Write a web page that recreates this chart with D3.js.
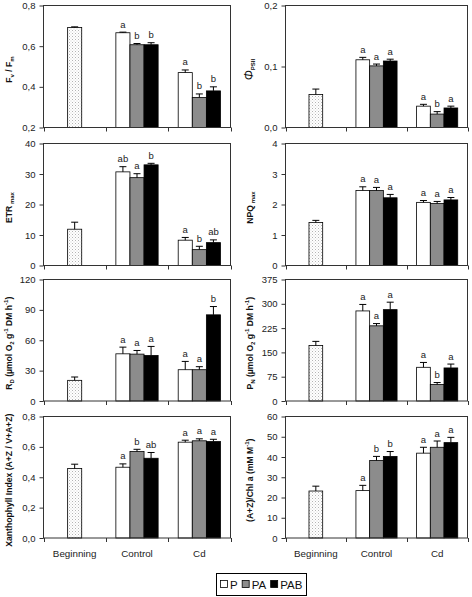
<!DOCTYPE html>
<html><head><meta charset="utf-8">
<script src="https://cdn.jsdelivr.net/npm/d3@7"></script>
<style>
body{margin:0;background:#fff}
svg{display:block}
text{font-family:"Liberation Sans",Arial,sans-serif}
</style>
</head><body>
<svg id="c" width="472" height="597"></svg>
<script>
// ---------- DATA ----------
const groups = ["Beginning", "Control", "Cd"];
const series = ["P", "PA", "PAB"];
// order of every value array: Beginning, Control P, Control PA, Control PAB, Cd P, Cd PA, Cd PAB

const fvfmValues  = [0.692, 0.666, 0.607, 0.607, 0.470, 0.348, 0.380];
const fvfmErrors  = [0.003, 0.003, 0.006, 0.010, 0.013, 0.017, 0.020];
const fvfmLetters = ["", "a", "b", "b", "a", "b", "b"];
const fvfmTicks   = [0.2, 0.4, 0.6, 0.8];
const fvfmTickLabels = ["0,2", "0,4", "0,6", "0,8"];

const phiValues  = [0.054, 0.111, 0.101, 0.109, 0.035, 0.022, 0.032];
const phiErrors  = [0.009, 0.004, 0.003, 0.003, 0.003, 0.004, 0.003];
const phiLetters = ["", "a", "a", "a", "a", "b", "a"];
const phiTicks   = [0, 0.1, 0.2];
const phiTickLabels = ["0,0", "0,1", "0,2"];

const etrValues  = [11.9, 30.7, 28.8, 33.0, 8.3, 5.2, 7.5];
const etrErrors  = [2.3, 1.7, 1.3, 0.5, 0.9, 1.1, 0.9];
const etrLetters = ["", "ab", "a", "b", "a", "b", "ab"];
const etrTicks   = [0, 10, 20, 30, 40];
const etrTickLabels = ["0", "10", "20", "30", "40"];

const npqValues  = [1.41, 2.46, 2.46, 2.22, 2.07, 2.03, 2.15];
const npqErrors  = [0.07, 0.12, 0.10, 0.11, 0.06, 0.07, 0.08];
const npqLetters = ["", "a", "a", "a", "a", "a", "a"];
const npqTicks   = [0, 1, 2, 3, 4];
const npqTickLabels = ["0", "1", "2", "3", "4"];

const rdValues  = [20.4, 46.6, 46.3, 45.0, 30.9, 30.9, 85.1];
const rdErrors  = [3.3, 6.6, 3.6, 8.9, 8.2, 3.0, 8.2];
const rdLetters = ["", "a", "a", "a", "a", "a", "b"];
const rdTicks   = [0, 30, 60, 90, 120];
const rdTickLabels = ["0", "30", "60", "90", "120"];

const pnValues  = [171, 278, 232, 282, 104, 51, 102];
const pnErrors  = [13, 20, 7, 23, 15, 6, 12];
const pnLetters = ["", "a", "a", "a", "a", "b", "a"];
const pnTicks   = [0, 75, 150, 225, 300, 375];
const pnTickLabels = ["0", "75", "150", "225", "300", "375"];

const xanValues  = [0.457, 0.466, 0.569, 0.525, 0.631, 0.640, 0.635];
const xanErrors  = [0.029, 0.022, 0.015, 0.038, 0.013, 0.013, 0.015];
const xanLetters = ["", "a", "b", "ab", "a", "a", "a"];
const xanTicks   = [0, 0.2, 0.4, 0.6, 0.8];
const xanTickLabels = ["0,0", "0,2", "0,4", "0,6", "0,8"];

const azValues  = [23.2, 23.4, 38.3, 40.3, 41.9, 44.8, 47.1];
const azErrors  = [2.4, 2.6, 2.0, 2.4, 2.9, 3.1, 2.6];
const azLetters = ["", "a", "b", "b", "a", "a", "a"];
const azTicks   = [0, 10, 20, 30, 40, 50, 60];
const azTickLabels = ["0", "10", "20", "30", "40", "50", "60"];

// ---------- LAYOUT / STYLE ----------
const svg = d3.select("#c");
const FONT = '"Liberation Sans",Arial,sans-serif';
const cols = [{x0: 43.5, x1: 230.5, tx: 8}, {x0: 285.5, x1: 467.5, tx: 249}];
const rows = [{y0: 5.5, y1: 127.5}, {y0: 143.5, y1: 265.5}, {y0: 279.5, y1: 401}, {y0: 416.5, y1: 538}];
const fills = {P: "#ffffff", PA: "#8c8c8c", PAB: "#000000"};

const defs = svg.append("defs");
const pat = defs.append("pattern").attr("id", "dots").attr("patternUnits", "userSpaceOnUse")
  .attr("width", 3).attr("height", 3);
pat.append("rect").attr("width", 3).attr("height", 3).attr("fill", "#fff");
pat.append("rect").attr("x", 0).attr("y", 0).attr("width", 1).attr("height", 1).attr("fill", "#b4b4b4");
pat.append("rect").attr("x", 1.5).attr("y", 1.5).attr("width", 1).attr("height", 1).attr("fill", "#cfcfcf");

const panels = [
  {col: 0, row: 0, v: fvfmValues, e: fvfmErrors, l: fvfmLetters, t: fvfmTicks, tl: fvfmTickLabels,
   title: [["F"], ["v", "sub"], [" / F"], ["m", "sub"]]},
  {col: 1, row: 0, v: phiValues, e: phiErrors, l: phiLetters, t: phiTicks, tl: phiTickLabels,
   title: [["Φ", "big"], ["PSII", "sub"]]},
  {col: 0, row: 1, v: etrValues, e: etrErrors, l: etrLetters, t: etrTicks, tl: etrTickLabels,
   title: [["ETR"], [" max", "sub"]]},
  {col: 1, row: 1, v: npqValues, e: npqErrors, l: npqLetters, t: npqTicks, tl: npqTickLabels,
   title: [["NPQ"], [" max", "sub"]]},
  {col: 0, row: 2, v: rdValues, e: rdErrors, l: rdLetters, t: rdTicks, tl: rdTickLabels,
   title: [["R"], ["D", "sub"], [" (µmol O"], ["2", "sub"], [" g"], ["-1", "sup"], [" DM h"], ["-1", "sup"], [")"]]},
  {col: 1, row: 2, v: pnValues, e: pnErrors, l: pnLetters, t: pnTicks, tl: pnTickLabels,
   title: [["P"], ["N", "sub"], [" (µmol O"], ["2", "sub"], [" g"], ["-1", "sup"], [" DM h"], ["-1", "sup"], [")"]]},
  {col: 0, row: 3, v: xanValues, e: xanErrors, l: xanLetters, t: xanTicks, tl: xanTickLabels,
   title: [["Xanthophyll Index (A+Z / V+A+Z)"]]},
  {col: 1, row: 3, v: azValues, e: azErrors, l: azLetters, t: azTicks, tl: azTickLabels,
   title: [["(A+Z)/Chl a (mM M"], ["-1", "sup"], [")"]]}
];

panels.forEach(p => {
  const c = cols[p.col], r = rows[p.row];
  const g = svg.append("g");
  const x = d3.scaleBand().domain(groups).range([c.x0, c.x1]);
  const y = d3.scaleLinear().domain([p.t[0], p.t[p.t.length - 1]]).range([r.y1, r.y0]);
  const bw = x.bandwidth() * 0.226;
  const xs = d3.scaleBand().domain(series).range([-1.5 * bw, 1.5 * bw]);

  const items = p.v.map((val, i) => {
    const grp = i === 0 ? groups[0] : (i <= 3 ? groups[1] : groups[2]);
    const s = i === 0 ? null : series[(i - 1) % 3];
    const cx = x(grp) + x.bandwidth() / 2;
    const left = s === null ? cx - bw / 2 : cx + xs(s);
    return {val, err: p.e[i], letter: p.l[i], s, left, mid: left + bw / 2};
  });

  // bars
  g.selectAll("rect.bar").data(items).join("rect")
    .attr("class", "bar")
    .attr("x", d => d.left).attr("width", bw)
    .attr("y", d => y(d.val)).attr("height", d => y(p.t[0]) - y(d.val))
    .attr("fill", d => d.s === null ? "url(#dots)" : fills[d.s])
    .attr("stroke", "#000").attr("stroke-width", 0.8);

  // error bars
  g.selectAll("line.eb").data(items).join("line")
    .attr("class", "eb")
    .attr("x1", d => d.mid).attr("x2", d => d.mid)
    .attr("y1", d => y(d.val)).attr("y2", d => y(d.val + d.err))
    .attr("stroke", "#000").attr("stroke-width", 1);
  g.selectAll("line.cap").data(items).join("line")
    .attr("class", "cap")
    .attr("x1", d => d.mid - 3.5).attr("x2", d => d.mid + 3.5)
    .attr("y1", d => y(d.val + d.err)).attr("y2", d => y(d.val + d.err))
    .attr("stroke", "#000").attr("stroke-width", 1);

  // letters
  g.selectAll("text.let").data(items.filter(d => d.letter)).join("text")
    .attr("class", "let")
    .attr("x", d => d.mid).attr("y", d => y(d.val + d.err) - 4.5)
    .attr("text-anchor", "middle").attr("font-size", 9.5).attr("fill", "#222")
    .text(d => d.letter);

  // frame
  g.append("rect").attr("x", c.x0).attr("y", r.y0)
    .attr("width", c.x1 - c.x0).attr("height", r.y1 - r.y0)
    .attr("fill", "none").attr("stroke", "#333").attr("stroke-width", 1);

  // y axis
  const ya = g.append("g").attr("transform", `translate(${c.x0},0)`)
    .call(d3.axisLeft(y).tickValues(p.t).tickFormat((d, i) => p.tl[i]).tickSize(4).tickPadding(4));
  ya.select(".domain").remove();
  ya.selectAll("line").attr("stroke", "#333");
  ya.selectAll("text").attr("font-size", 9.5).attr("font-family", FONT).attr("fill", "#222");

  // x ticks at band boundaries
  const bounds = groups.map(d => x(d)).concat([c.x1]);
  g.selectAll("line.xt").data(bounds).join("line")
    .attr("class", "xt")
    .attr("x1", d => Math.round(d) + 0.5).attr("x2", d => Math.round(d) + 0.5)
    .attr("y1", r.y1).attr("y2", r.y1 + 4)
    .attr("stroke", "#333");

  if (p.row === 3) {
    g.selectAll("text.xl").data(groups).join("text")
      .attr("class", "xl")
      .attr("x", d => x(d) + x.bandwidth() / 2).attr("y", 557)
      .attr("text-anchor", "middle").attr("font-size", 9.8).attr("fill", "#222")
      .text(d => d);
  }

  // y title
  const cy = (r.y0 + r.y1) / 2 + 3;
  const tt = g.append("text")
    .attr("transform", `translate(${c.tx + 3.5},${cy}) rotate(-90)`)
    .attr("text-anchor", "middle").attr("font-size", 8.6).attr("font-weight", "bold").attr("fill", "#111");
  let shift = 0;
  p.title.forEach(([txt, kind]) => {
    let target = 0, fs = 8.6;
    if (kind === "sub") { target = 2.2; fs = 6; }
    if (kind === "sup") { target = -3.2; fs = 6; }
    if (kind === "big") { fs = 12; }
    const ts = tt.append("tspan").attr("font-size", fs).attr("dy", target - shift).text(txt);
    if (kind === "big") ts.attr("font-weight", "normal").attr("font-style", "italic");
    shift = target;
  });
});

// legend
const lg = svg.append("g");
lg.append("rect").attr("x", 216.5).attr("y", 573.5).attr("width", 90).attr("height", 22)
  .attr("fill", "#fff").attr("stroke", "#000").attr("stroke-width", 1);
let lx = 220;
series.forEach(s => {
  lg.append("rect").attr("x", lx + 0.5).attr("y", 580.5).attr("width", 7).attr("height", 7)
    .attr("fill", fills[s]).attr("stroke", "#000").attr("stroke-width", 0.8);
  const t = lg.append("text").attr("x", lx + 10).attr("y", 589).attr("font-size", 11.5).attr("fill", "#111").text(s);
  lx += 10 + t.node().getComputedTextLength() + 4;
});
</script>
</body></html>
